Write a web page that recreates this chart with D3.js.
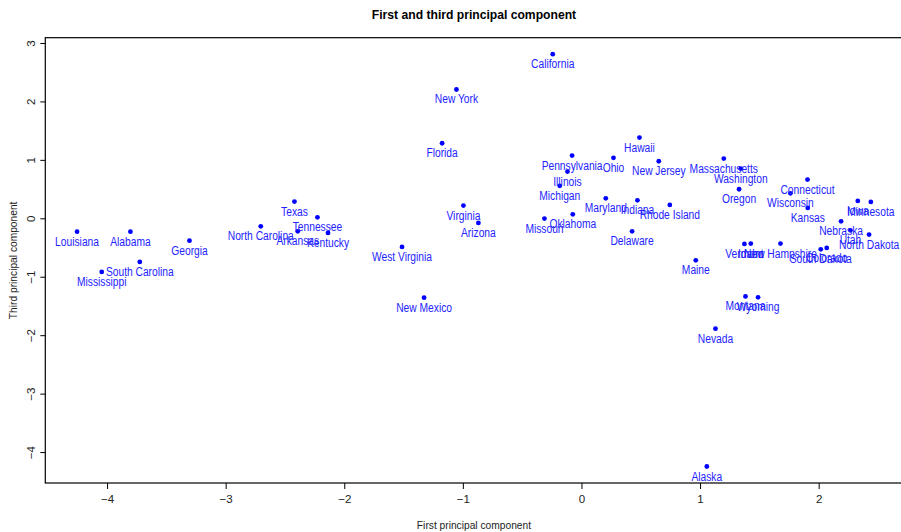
<!DOCTYPE html>
<html>
<head>
<meta charset="utf-8">
<script src="https://cdn.jsdelivr.net/npm/d3@7"></script>
<style>
  body { margin: 0; background: #fff; }
  .axis text { font-family: "Liberation Sans", Arial, sans-serif; font-size: 11.5px; fill: #222; }
  .stateLabel { font-family: "Liberation Sans", Arial, sans-serif; font-size: 12.5px; fill: #2323ff; }
</style>
</head>
<body>
<div id="chart"></div>
<script>
// page size matches the reference picture
const svgWidth = 901;
const svgHeight = 532;
// plot frame edges (the right side runs just past the window, like the original)
const plotLeft = 45.3, plotTop = 37.7, plotBottom = 483;
// the original font is a condensed sans, so squeeze the text sideways
const squeeze = 0.82;

// state names, first PC score, third PC score
const states = ["Louisiana", "Alabama", "Georgia", "Mississippi", "South Carolina",
  "North Carolina", "Texas", "Tennessee", "Arkansas", "Kentucky",
  "West Virginia", "New Mexico", "Virginia", "Arizona", "California",
  "New York", "Florida", "Hawaii", "Pennsylvania", "Ohio",
  "New Jersey", "Illinois", "Michigan", "Maryland", "Indiana",
  "Rhode Island", "Oklahoma", "Missouri", "Delaware", "Massachusetts",
  "Washington", "Oregon", "Connecticut", "Wisconsin", "Kansas",
  "Iowa", "Minnesota", "Nebraska", "Utah", "North Dakota",
  "South Dakota", "Colorado", "Vermont", "Idaho", "New Hampshire",
  "Maine", "Montana", "Wyoming", "Nevada", "Alaska"];
const pc1 = [-4.253, -3.803, -3.305, -4.045, -3.724,
  -2.704, -2.420, -2.226, -2.392, -2.137,
  -1.513, -1.327, -0.995, -0.869, -0.242,
  -1.054, -1.175, 0.489, -0.079, 0.270,
  0.652, -0.118, -0.183, 0.205, 0.472,
  0.745, -0.073, -0.312, 0.427, 1.200,
  1.343, 1.329, 1.906, 1.762, 1.908,
  2.330, 2.440, 2.189, 2.268, 2.425,
  2.018, 2.068, 1.374, 1.428, 1.678,
  0.964, 1.383, 1.489, 1.130, 1.057];
const pc3 = [-0.228, -0.228, -0.382, -0.918, -0.747,
  -0.137, 0.286, 0.017, -0.223, -0.250,
  -0.490, -1.358, 0.217, -0.079, 2.808,
  2.204, 1.284, 1.382, 1.074, 1.034,
  0.976, 0.800, 0.555, 0.342, 0.308,
  0.229, 0.068, -0.005, -0.223, 1.022,
  0.851, 0.497, 0.663, 0.428, 0.178,
  0.298, 0.280, -0.051, -0.205, -0.279,
  -0.531, -0.507, -0.438, -0.433, -0.433,
  -0.719, -1.336, -1.353, -1.889, -4.247];

const xTicks = [-4, -3, -2, -1, 0, 1, 2];
const yTicks = [-4, -3, -2, -1, 0, 1, 2, 3];

const points = states.map((s, i) => ({ name: s, x: pc1[i], y: pc3[i] }));

// R style axis range: data extent plus 4% on each side
function padded(ext) {
  const r = ext[1] - ext[0];
  return [ext[0] - 0.04 * r, ext[1] + 0.04 * r];
}
const xDom = padded(d3.extent(pc1));
const yDom = padded(d3.extent(pc3));
const xRight = plotLeft + (xDom[1] - xDom[0]) * 118.6;

const x = d3.scaleLinear().domain(xDom).range([plotLeft, xRight]);
const y = d3.scaleLinear().domain(yDom).range([plotBottom, plotTop]);

const svg = d3.select("#chart").append("svg")
  .attr("width", svgWidth)
  .attr("height", svgHeight);

// axes
svg.append("g")
  .attr("class", "axis")
  .attr("transform", `translate(0,${plotBottom})`)
  .call(d3.axisBottom(x).tickValues(xTicks).tickSize(6).tickSizeOuter(0).tickPadding(6))
  .call(g => g.select(".domain").remove());

svg.append("g")
  .attr("class", "axis")
  .attr("transform", `translate(${plotLeft},0)`)
  .call(d3.axisLeft(y).tickValues(yTicks).tickSize(5).tickSizeOuter(0))
  .call(g => g.select(".domain").remove())
  .call(g => g.selectAll("text")
    .attr("x", 0).attr("dy", 0)
    .attr("text-anchor", "middle")
    .attr("transform", "translate(-10,0) rotate(-90)"));

// frame round the plot
svg.append("rect")
  .attr("x", plotLeft)
  .attr("y", plotTop)
  .attr("width", xRight - plotLeft)
  .attr("height", plotBottom - plotTop)
  .attr("fill", "none")
  .attr("stroke", "#000")
  .attr("stroke-width", 1.2);

// points
svg.append("g").selectAll("circle")
  .data(points)
  .enter()
  .append("circle")
  .attr("cx", d => x(d.x))
  .attr("cy", d => y(d.y))
  .attr("r", 2.4)
  .attr("fill", "blue");

// labels just below each point
svg.append("g").selectAll("text")
  .data(points)
  .enter()
  .append("text")
  .attr("class", "stateLabel")
  .attr("transform", d => `translate(${x(d.x)},${y(d.y) + 14}) scale(${squeeze},1)`)
  .attr("text-anchor", "middle")
  .text(d => d.name);

// titles
const midX = (plotLeft + xRight) / 2;
svg.append("text")
  .text("First and third principal component")
  .attr("transform", `translate(${midX},19) scale(0.9,1)`)
  .attr("text-anchor", "middle")
  .style("font-family", "'Liberation Sans', Arial, sans-serif")
  .style("font-weight", "bold")
  .style("font-size", "13.5px");

svg.append("text")
  .text("First principal component")
  .attr("transform", `translate(${midX},529) scale(0.93,1)`)
  .attr("text-anchor", "middle")
  .style("font-family", "'Liberation Sans', Arial, sans-serif")
  .style("font-size", "11px")
  .style("fill", "#222");

svg.append("text")
  .text("Third principal component")
  .attr("transform", `translate(17,${(plotTop + plotBottom) / 2}) rotate(-90) scale(0.93,1)`)
  .attr("text-anchor", "middle")
  .style("font-family", "'Liberation Sans', Arial, sans-serif")
  .style("font-size", "11px")
  .style("fill", "#222");
</script>
</body>
</html>
